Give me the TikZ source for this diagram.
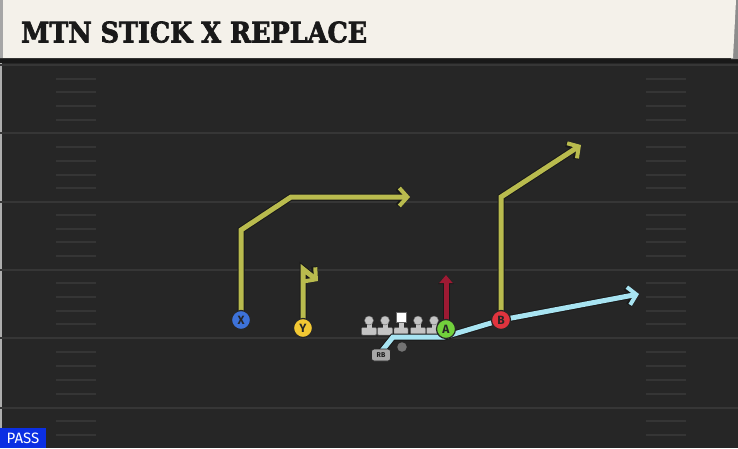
\documentclass[tikz,border=0pt]{standalone}
\usepackage{fontspec}
\setmainfont{Fira Sans}
\newfontfamily\titlefont{DejaVu Serif}[BoldFeatures={FakeBold=2.5}]
\usetikzlibrary{arrows.meta}
\definecolor{field}{HTML}{262626}
\definecolor{yardc}{HTML}{363636}
\definecolor{hashc}{HTML}{353535}
\definecolor{cream}{HTML}{F4F1EA}
\definecolor{olive}{HTML}{B9BB4E}
\definecolor{routered}{HTML}{9E1A33}
\definecolor{routeblue}{HTML}{A8E4F2}
\definecolor{xblue}{HTML}{3D72D9}
\definecolor{yyellow}{HTML}{F2C833}
\definecolor{agreen}{HTML}{72D13C}
\definecolor{bred}{HTML}{E0343E}
\definecolor{olgray}{HTML}{C4C4C4}
\definecolor{passblue}{HTML}{0B2FE3}
\tikzset{
  player/.style={circle, draw=black!85, line width=1.2pt, minimum size=19pt, inner sep=0pt,
    font=\fontsize{12}{12}\selectfont\bfseries, text=black!85},
  routeout/.style={line width=7pt, draw=black!90, line join=miter,
    -{Straight Barb[length=8pt,width=18pt,line width=6pt]}},
  routein/.style={line width=5pt, line join=miter,
    -{Straight Barb[length=8pt,width=18pt,line width=4pt]}},
  yardline/.style={draw=yardc, line width=2pt},
  hashline/.style={draw=hashc, line width=1.6pt},
  olhead/.style={circle, fill=olgray, draw=black!60, line width=0.4pt, minimum size=9pt, inner sep=0pt},
}
\begin{document}
\begin{tikzpicture}[x=1pt,y=-1pt]
\useasboundingbox (0,0) rectangle (738,448);
% field
\fill[field] (0,0) rectangle (738,448);
\fill[black!32] (0,58) rectangle (2,448);
% yard lines
\foreach \yy in {65,133,202,270,338,408}
  \draw[yardline] (0,\yy) -- (738,\yy);
% hashes
\foreach \yy in {79,92,106,120,147,161,175,188,215,229,242,256,283,297,311,324,352,366,380,394,421,435}{
  \draw[hashline] (56,\yy) -- (96,\yy);
  \draw[hashline] (646,\yy) -- (686,\yy);
}
% title bar
\fill[black!90] (0,58) rectangle (738,63);
\fill[black!45] (733,0) -- (738,0) -- (738,59) -- (731,59) -- cycle;
\fill[cream] (0,0) -- (736,0) -- (733,58) -- (0,58) -- cycle;
\fill[black!35] (0,0) rectangle (3,58);
\node[anchor=south west, inner sep=0pt, text=black!90] (title) at (21,43)
  {\resizebox{346pt}{21pt}{\titlefont\bfseries MTN STICK X REPLACE}};
% players (positions)
\coordinate (Xp) at (241,320);
\coordinate (Yp) at (303,328);
\coordinate (Ap) at (446,329);
\coordinate (Bp) at (501,320);
% route waypoints
\coordinate (x1) at (241,230);
\coordinate (x2) at (291,197);
\coordinate (x3) at (410,197);
\coordinate (y1) at (303,269);
\coordinate (y2) at (318,281);
\coordinate (b1) at (501,197);
\coordinate (b2) at (581,145);
\coordinate (a1) at (446,275);
\coordinate (rb1) at (393,337);
\coordinate (rb2) at (444,337);
\coordinate (rb3) at (639,294);
% QB dot
\node[circle, fill=black!55, minimum size=9.5pt, inner sep=0pt] (qb) at (402,347) {};
% linemen
\foreach \xx/\nm in {369/L1,385/L2,418/L4,434/L5}{
  \fill[olgray, draw=black!60, line width=0.4pt, rounded corners=1pt] (\xx-7.5,327.5) rectangle (\xx+7.5,335);
  \fill[olgray] (\xx-2.5,321) rectangle (\xx+2.5,329);
  \node[olhead] (\nm) at (\xx,320.5) {};
}
\fill[olgray, draw=black!60, line width=0.4pt, rounded corners=1pt] (394,327.5) rectangle (408,335);
\fill[olgray] (398.5,320) rectangle (403.5,329);
\node[rectangle, fill=white, draw=black!60, line width=0.4pt, minimum size=9.5pt, inner sep=0pt] (C) at (401,317) {};
% routes (outline then colour)
\draw[routeout] (Xp) -- (x1) -- (x2) -- (x3);
\draw[routein, olive] (Xp) -- (x1) -- (x2) -- (x3);
\draw[routeout] (Yp) -- (y1) -- (y2);
\draw[routein, olive] (Yp) -- (y1) -- (y2);
\draw[routeout] (Bp) -- (b1) -- (b2);
\draw[routein, olive] (Bp) -- (b1) -- (b2);
\draw[routeout, -{Triangle[length=9pt,width=15pt]}] (Ap) -- (a1);
\draw[routein, routered, -{Triangle[length=8pt,width=13pt]}] (Ap) -- (a1);
\draw[routeout] (381,352) -- (rb1) -- (rb2) -- (Bp) -- (rb3);
\draw[routein, routeblue] (381,352) -- (rb1) -- (rb2) -- (Bp) -- (rb3);
% RB
\node[rectangle, rounded corners=2.5pt, fill=black!35, draw=black!85, line width=0.8pt,
  minimum width=19pt, minimum height=12pt, inner sep=0pt, font=\fontsize{7}{7}\selectfont\bfseries, text=black!90] (RB) at (381,355) {RB};
% player circles
\node[player, fill=xblue] (X) at (Xp) {X};
\node[player, fill=yyellow] (Y) at (Yp) {Y};
\node[player, fill=agreen] (A) at (Ap) {A};
\node[player, fill=bred] (B) at (Bp) {B};
% PASS label
\fill[passblue] (0,428) rectangle (46,448);
\node[text=white, font=\fontsize{15}{15}\selectfont, inner sep=0pt] (pass) at (23,438.5) {PASS};
\end{tikzpicture}
\end{document}
